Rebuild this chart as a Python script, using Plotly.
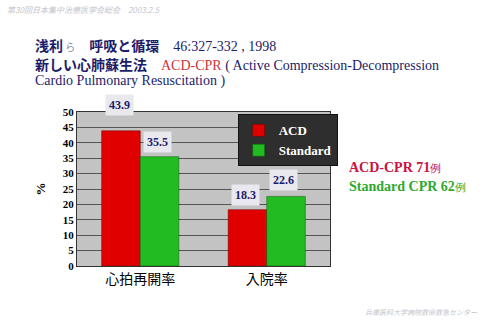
import plotly.graph_objects as go

categories = ["心拍再開率", "入院率"]
acd_values = [43.9, 18.3]
standard_values = [35.5, 22.6]
series_names = ["ACD", "Standard"]
y_ticks = [0, 5, 10, 15, 20, 25, 30, 35, 40, 45, 50]

NAVY = "#1c1c6a"
SERIF = "Liberation Serif, Times New Roman, serif"
CJK = "Noto Sans CJK JP"

fig = go.Figure()
fig.add_trace(go.Bar(x=categories, y=acd_values, name=f"<b>{series_names[0]}</b>",
                     marker=dict(color="#e00000", line=dict(color="#6a0000", width=0.5))))
fig.add_trace(go.Bar(x=categories, y=standard_values, name=f"<b>{series_names[1]}</b>",
                     marker=dict(color="#22bb22", line=dict(color="#0a5a0a", width=0.5))))

# value labels
label_yshift = [[15, 4], [4, 5]]
for si, vals in enumerate([acd_values, standard_values]):
    for ci, v in enumerate(vals):
        fig.add_annotation(x=categories[ci], y=v, text=f"<b>{v}</b>",
                           xshift=(-19 if si == 0 else 19) - 2, yshift=label_yshift[si][ci],
                           yanchor="bottom", showarrow=False,
                           font=dict(family=SERIF, size=12, color=NAVY),
                           bgcolor="#e8e8ee", borderpad=3)

fig.update_layout(
    width=486, height=324,
    margin=dict(l=77, r=156, t=112, b=58),
    paper_bgcolor="white", plot_bgcolor="#c3c3c3",
    barmode="group", bargap=0.39, bargroupgap=0,
    showlegend=True,
    legend=dict(x=0.635, y=0.985, xanchor="left", yanchor="top",
                bgcolor="#2e2e2e", bordercolor="#111", borderwidth=1,
                font=dict(family=SERIF, size=13, color="white"),
                itemwidth=30, tracegroupgap=0),
    font=dict(family=SERIF),
)
fig.update_yaxes(range=[0, 50], tickvals=y_ticks, showgrid=True, gridcolor="#555555", gridwidth=1,
                 showline=True, linecolor="#333", linewidth=1, mirror=True,
                 tickfont=dict(family=SERIF, size=11, color="black", weight="bold"), ticks="",
                 title=dict(text="<b>%</b>", font=dict(family=SERIF, size=13, color="black"), standoff=14),
                 zeroline=False)
fig.update_xaxes(showline=True, linecolor="#333", linewidth=1, mirror=True,
                 tickfont=dict(family=CJK, size=14, color="black"), ticks="", tickson="boundaries")

# titles
fig.add_annotation(xref="paper", yref="paper", x=-72/253, y=1+(112-10)/154, xanchor="left", yanchor="middle",
                   showarrow=False, text="<i>第30回日本集中治療医学会総会　2003.2.5</i>",
                   font=dict(family=CJK, size=8, color="#c4c4cc"))
fig.add_annotation(xref="paper", yref="paper", x=(33-77)/253, y=1+(112-45)/154, xanchor="left", yanchor="middle",
                   showarrow=False,
                   text=f"<b>浅利</b><span style='font-size:10px;color:#8888aa'> ら</span>　<b>呼吸と循環</b>　"
                        f"<span style='font-family:{SERIF};font-size:14px'>46:327-332 , 1998</span>",
                   font=dict(family=CJK, size=14, color=NAVY))
fig.add_annotation(xref="paper", yref="paper", x=(33-77)/253, y=1+(112-64)/154, xanchor="left", yanchor="middle",
                   showarrow=False,
                   text=f"<b>新しい心肺蘇生法</b>　<span style='font-family:{SERIF};color:#d0343c'>ACD-CPR</span>"
                        f"<span style='font-family:{SERIF}'> ( Active Compression-Decompression</span>",
                   font=dict(family=CJK, size=14, color=NAVY))
fig.add_annotation(xref="paper", yref="paper", x=(33-77)/253, y=1+(112-81)/154, xanchor="left", yanchor="middle",
                   showarrow=False, text="Cardio Pulmonary Resuscitation )",
                   font=dict(family=SERIF, size=14, color=NAVY))

# right side notes
fig.add_annotation(xref="paper", yref="paper", x=(347-77)/253, y=(266-167)/154, xanchor="left", yanchor="middle",
                   showarrow=False, text="<b>ACD-CPR 71</b><span style='font-size:11px'>例</span>",
                   font=dict(family=SERIF, size=14, color="#cc1040"))
fig.add_annotation(xref="paper", yref="paper", x=(347-77)/253, y=(266-186)/154, xanchor="left", yanchor="middle",
                   showarrow=False, text="<b>Standard CPR 62</b><span style='font-size:11px'>例</span>",
                   font=dict(family=SERIF, size=14, color="#2ea82e"))

# footer
fig.add_annotation(xref="paper", yref="paper", x=(480-77)/253, y=-(312-266)/154, xanchor="right", yanchor="middle",
                   showarrow=False, text="<i>兵庫医科大学病院救命救急センター</i>",
                   font=dict(family=CJK, size=7, color="#c4c4cc"))

fig.write_html("out.html")
